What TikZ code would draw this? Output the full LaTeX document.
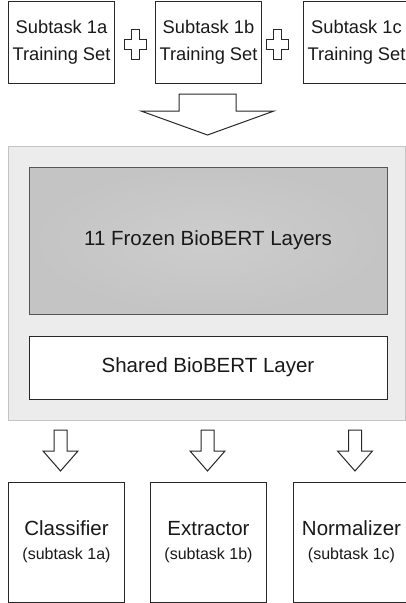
\documentclass[tikz,border=0pt]{standalone}
\usepackage{fontspec}
\setmainfont{Liberation Sans}
\usepackage{xcolor}
\usetikzlibrary{positioning, shadings}
\definecolor{LineColor}{RGB}{40,40,40}
\definecolor{TextColor}{RGB}{25,25,25}
\definecolor{PanelFill}{RGB}{236,236,236}
\definecolor{PanelLine}{RGB}{196,196,196}
\definecolor{FrozenFill}{RGB}{196,196,196}
\definecolor{FrozenLine}{RGB}{85,85,85}
\tikzstyle{setbox} = [draw=LineColor, fill=white, line width=1pt, minimum width=106pt, minimum height=82pt, align=center, text=TextColor, font=\fontsize{18.3}{27}\selectfont]
\tikzstyle{headbox} = [draw=LineColor, fill=white, line width=1pt, minimum width=116pt, minimum height=120pt, align=center, text=TextColor, font=\fontsize{20.5}{24}\selectfont]
\tikzstyle{layerbox} = [draw=LineColor, line width=1pt, minimum width=358pt, align=center, text=TextColor, font=\fontsize{20.5}{24}\selectfont]
\tikzstyle{blockarrow} = [draw=LineColor, fill=white, line width=1pt, line join=miter]
\newcommand{\subtasktag}[1]{{\fontsize{16}{24}\selectfont #1}}

\begin{document}
\begin{tikzpicture}[x=1pt, y=-1pt]
    \useasboundingbox (0,0) rectangle (406,603);
    \clip (0,0) rectangle (406,603);

    % training sets
    \node[setbox] (set1a) at (61.5,42) {Subtask 1a\\Training Set};
    \node[setbox, right=40pt of set1a] (set1b) {Subtask 1b\\Training Set};
    \node[setbox, right=41pt of set1b] (set1c) {Subtask 1c\\Training Set};
    \foreach \cx in {135,277} {
        \draw[blockarrow] (\cx-4,29) -- (\cx+4,29) -- (\cx+4,39) -- (\cx+11,39) -- (\cx+11,49) -- (\cx+4,49)
            -- (\cx+4,59) -- (\cx-4,59) -- (\cx-4,49) -- (\cx-11,49) -- (\cx-11,39) -- (\cx-4,39) -- cycle;
    }
    \draw[blockarrow] (179,94) -- (236,94) -- (236,111) -- (274,111) -- (207.5,135) -- (141,111) -- (179,111) -- cycle;

    % shared model
    \node[draw=PanelLine, fill=PanelFill, line width=1pt, minimum width=397pt, minimum height=274pt] (backbone) at (206.5,283) {};
    \node[layerbox, draw=FrozenLine, minimum height=147pt, shading=radial, inner color=FrozenFill!85!white, outer color=FrozenFill] (frozen) at (208,240.5) {11 Frozen BioBERT Layers};
    \node[layerbox, fill=white, minimum height=63pt, below=21pt of frozen] (shared) {Shared BioBERT Layer};

    % task heads
    \foreach \cx in {60.5,207.5,355} {
        \draw[blockarrow] (\cx-6.5,430) -- (\cx+6.5,430) -- (\cx+6.5,451) -- (\cx+17.5,451) -- (\cx,471)
            -- (\cx-17.5,451) -- (\cx-6.5,451) -- cycle;
    }
    \node[headbox] (classifier) at (66.5,542) {Classifier\\\subtasktag{(subtask 1a)}};
    \node[headbox, right=25pt of classifier] (extractor) {Extractor\\\subtasktag{(subtask 1b)}};
    \node[headbox, right=26pt of extractor] (normalizer) {Normalizer\\\subtasktag{(subtask 1c)}};
\end{tikzpicture}
\end{document}
